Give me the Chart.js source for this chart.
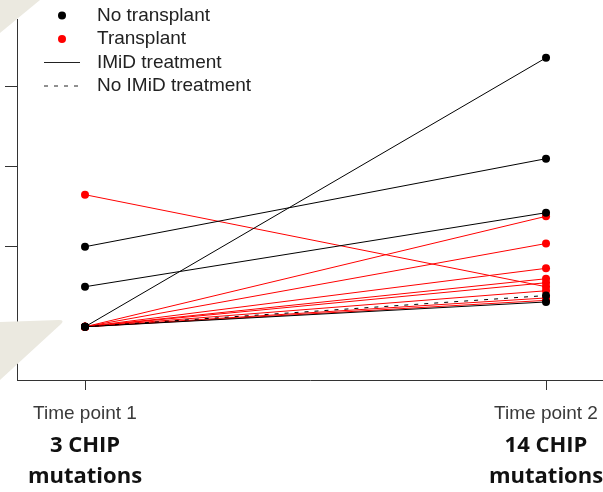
<!DOCTYPE html>
<html>
<head>
<meta charset="utf-8">
<script src="https://cdn.jsdelivr.net/npm/chart.js@4/dist/chart.umd.min.js"></script>
<style>
  html, body { margin: 0; padding: 0; background: #ffffff; }
  #wrap { width: 603px; height: 492px; position: relative; }
</style>
</head>
<body>
<div id="wrap"><canvas id="chart" width="603" height="492"></canvas></div>
<script>
// Time points on the x axis and their mutation counts
const timeLabels = ['Time point 1', 'Time point 2'];
const mutationLabels = [['3 CHIP', 'mutations'], ['14 CHIP', 'mutations']];

// Patient trajectories: [time point 1, time point 2]
const noTransplantImid = [[0, 33.6], [10, 21.0], [5, 14.25], [0, 3.1]];
const noTransplantNoImid = [[0, 3.9]];
const transplantImid = [[16.5, 5.0], [0, 13.8], [0, 10.4], [0, 7.3], [0, 6.0], [0, 5.5], [0, 4.5], [0, 3.6], [0, 3.3]];

// y axis tick positions
const yTicks = [0, 10, 20, 30];

// Legend entries
const legendLabels = ['No transplant', 'Transplant', 'IMiD treatment', 'No IMiD treatment'];

const FONT = "'Liberation Sans', Arial, Helvetica, sans-serif";
const BLACK = '#000000';
const RED = '#ff0000';

function makeSet(pair, color, dash) {
  return {
    data: [{ x: 1, y: pair[0] }, { x: 2, y: pair[1] }],
    borderColor: color,
    backgroundColor: color,
    pointBackgroundColor: color,
    pointBorderWidth: 0,
    pointRadius: 4,
    borderWidth: 1,
    borderDash: dash || [],
    tension: 0,
    xAxisID: 'x',
    yAxisID: 'y'
  };
}

// black series first so they sit on top of the red ones
const datasets = []
  .concat(noTransplantImid.map(p => makeSet(p, BLACK)))
  .concat(noTransplantNoImid.map(p => makeSet(p, BLACK, [4, 6])))
  .concat(transplantImid.map(p => makeSet(p, RED)));

// R-style legend block in the upper left corner
const legendPlugin = {
  id: 'cornerLegend',
  afterDatasetsDraw(chart) {
    const ctx = chart.ctx;
    const rows = [15.5, 39, 62.5, 86];
    const symX = 62, lineX0 = 44, lineX1 = 80, textX = 97;
    ctx.save();
    // dots
    [[BLACK, rows[0]], [RED, rows[1]]].forEach(([c, y]) => {
      ctx.beginPath();
      ctx.fillStyle = c;
      ctx.arc(symX, y, 4, 0, Math.PI * 2);
      ctx.fill();
    });
    // line samples
    ctx.strokeStyle = '#222';
    ctx.lineWidth = 1;
    ctx.beginPath();
    ctx.moveTo(lineX0, rows[2]); ctx.lineTo(lineX1, rows[2]);
    ctx.stroke();
    ctx.setLineDash([4, 6]);
    ctx.beginPath();
    ctx.moveTo(lineX0, rows[3]); ctx.lineTo(lineX1, rows[3]);
    ctx.stroke();
    ctx.setLineDash([]);
    // labels
    ctx.fillStyle = '#222';
    ctx.font = '19px ' + FONT;
    ctx.textBaseline = 'middle';
    ctx.textAlign = 'left';
    legendLabels.forEach((t, i) => ctx.fillText(t, textX, rows[i]));
    ctx.restore();
  }
};

// beige slide ornaments laid over the plot edge
const ornamentPlugin = {
  id: 'ornaments',
  afterDraw(chart) {
    const ctx = chart.ctx;
    ctx.save();
    ctx.fillStyle = '#ebe9e0';
    ctx.beginPath();
    ctx.moveTo(0, 0); ctx.lineTo(40, 0); ctx.lineTo(0, 33); ctx.closePath();
    ctx.fill();
    ctx.beginPath();
    ctx.moveTo(0, 322);
    ctx.lineTo(59, 320);
    ctx.quadraticCurveTo(65, 320, 61, 324);
    ctx.lineTo(0, 380);
    ctx.closePath();
    ctx.fill();
    ctx.restore();
  }
};

const X_MIN = 0.8525, X_MAX = 2.1236;

new Chart(document.getElementById('chart'), {
  type: 'line',
  data: { datasets },
  plugins: [legendPlugin, ornamentPlugin],
  options: {
    responsive: false,
    animation: false,
    layout: { autoPadding: false, padding: { left: 5, top: 19, right: 0, bottom: 0 } },
    plugins: { legend: { display: false }, tooltip: { enabled: false } },
    scales: {
      x: {
        type: 'linear',
        position: 'bottom',
        weight: 0,
        min: X_MIN,
        max: X_MAX,
        afterBuildTicks: s => { s.ticks = [{ value: 1 }, { value: 2 }]; },
        afterFit: s => { s.height = 44; s.paddingLeft = 0; s.paddingRight = 0; },
        grid: { drawOnChartArea: false, drawTicks: true, tickLength: 10, color: '#333', lineWidth: 1 },
        border: { display: true, color: '#333', width: 1 },
        ticks: {
          autoSkip: false,
          maxRotation: 0,
          padding: 12,
          color: '#3a3a3a',
          font: { family: FONT, size: 19 },
          callback: (v, i) => timeLabels[i]
        }
      },
      x2: {
        type: 'linear',
        position: 'bottom',
        weight: 1,
        min: X_MIN,
        max: X_MAX,
        afterBuildTicks: s => { s.ticks = [{ value: 1 }, { value: 2 }]; },
        afterFit: s => { s.height = 68; s.paddingLeft = 0; s.paddingRight = 0; },
        grid: { display: false, drawTicks: false },
        border: { display: false },
        ticks: {
          autoSkip: false,
          maxRotation: 0,
          padding: 5.5,
          color: '#111',
          font: { family: "'Open Sans', " + FONT, size: 22, weight: 'bold', lineHeight: 31.5 / 22 },
          callback: (v, i) => mutationLabels[i]
        }
      },
      y: {
        type: 'linear',
        position: 'left',
        min: -6.65,
        max: 38.45,
        afterBuildTicks: s => { s.ticks = yTicks.map(v => ({ value: v })); },
        afterFit: s => { s.width = 12; s.paddingTop = 0; s.paddingBottom = 0; },
        grid: { drawOnChartArea: false, drawTicks: true, tickLength: 12, color: '#333', lineWidth: 1 },
        border: { display: true, color: '#333', width: 1 },
        ticks: { display: false }
      }
    }
  }
});
</script>
</body>
</html>
